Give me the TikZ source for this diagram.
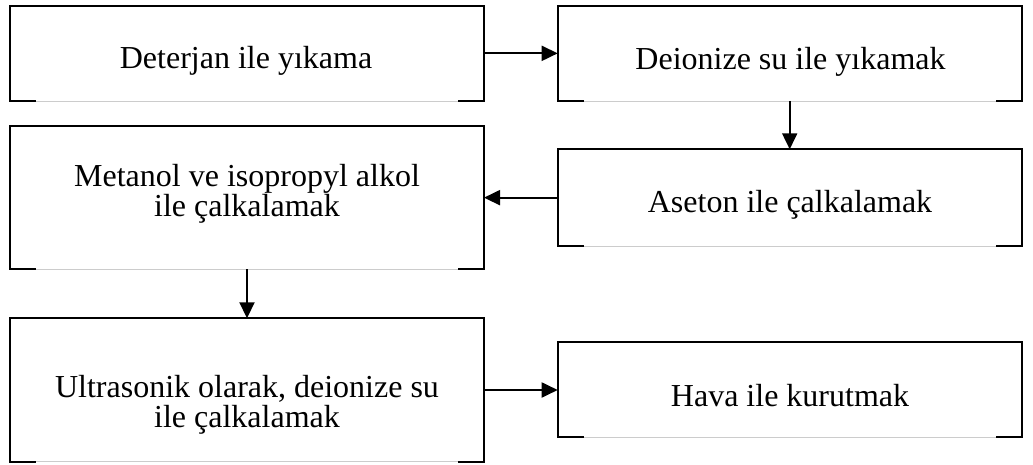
\documentclass[tikz,border=0pt]{standalone}
\usepackage{fontspec}
\setmainfont{Liberation Serif}
\usetikzlibrary{arrows.meta}

\tikzset{
  boxnode/.style={rectangle, inner sep=0pt, outer sep=0pt, draw=none},
  frameline/.style={line width=2pt, black, line cap=rect},
  seam/.style={line width=0.7pt, black!20},
  steptext/.style={anchor=base, inner sep=0pt, font=\fontsize{32}{29}\selectfont},
  flow/.style={line width=1.9pt, -{Triangle[length=16pt, width=15pt]}},
}

% open-bottom frame: top, sides and short corner pieces along the bottom
\newcommand\stepframe[1]{%
  \draw[seam] ([xshift=25pt]#1.south west) -- ([xshift=-25pt]#1.south east);
  \draw[frameline] ([xshift=25pt]#1.south west) -- (#1.south west) -- (#1.north west)
    -- (#1.north east) -- (#1.south east) -- ([xshift=-25pt]#1.south east);
}

\begin{document}
\begin{tikzpicture}[x=1pt, y=-1pt]
  \useasboundingbox (0,0) rectangle (1033,465);

  % boxes
  \node[boxnode, minimum width=474pt, minimum height=95.3pt]  (b1) at (247,53.35)   {};
  \node[boxnode, minimum width=464pt, minimum height=95.3pt]  (b2) at (789.7,53.35) {};
  \node[boxnode, minimum width=464pt, minimum height=96.7pt]  (b3) at (789.7,197.65) {};
  \node[boxnode, minimum width=474pt, minimum height=143.3pt] (b4) at (247,197.35)  {};
  \node[boxnode, minimum width=474pt, minimum height=143.4pt] (b5) at (247,390)     {};
  \node[boxnode, minimum width=464pt, minimum height=95.6pt]  (b6) at (789.7,389.5) {};

  \stepframe{b1}
  \stepframe{b2}
  \stepframe{b3}
  \stepframe{b4}
  \stepframe{b5}
  \stepframe{b6}

  % texts
  \node[steptext] (t1)  at (246,69)    {Deterjan ile yıkama};
  \node[steptext] (t2)  at (790.5,69.3) {Deionize su ile yıkamak};
  \node[steptext] (t3)  at (790,212.7) {Aseton ile çalkalamak};
  \node[steptext] (t4a) at (247,186.7) {Metanol ve isopropyl alkol};
  \node[steptext] (t4b) at (247,216.7) {ile çalkalamak};
  \node[steptext] (t5a) at (247,397)   {Ultrasonik olarak, deionize su};
  \node[steptext] (t5b) at (247,427)   {ile çalkalamak};
  \node[steptext] (t6)  at (790,406)   {Hava ile kurutmak};

  % connectors
  \draw[flow] (b1.east) -- (b2.west);
  \draw[flow] (b2.south) -- (b3.north);
  \draw[flow] (b3.west) -- (b3.west -| b4.east);
  \draw[flow] (b4.south) -- (b5.north);
  \draw[flow] (b5.east) -- (b5.east -| b6.west);
\end{tikzpicture}
\end{document}
